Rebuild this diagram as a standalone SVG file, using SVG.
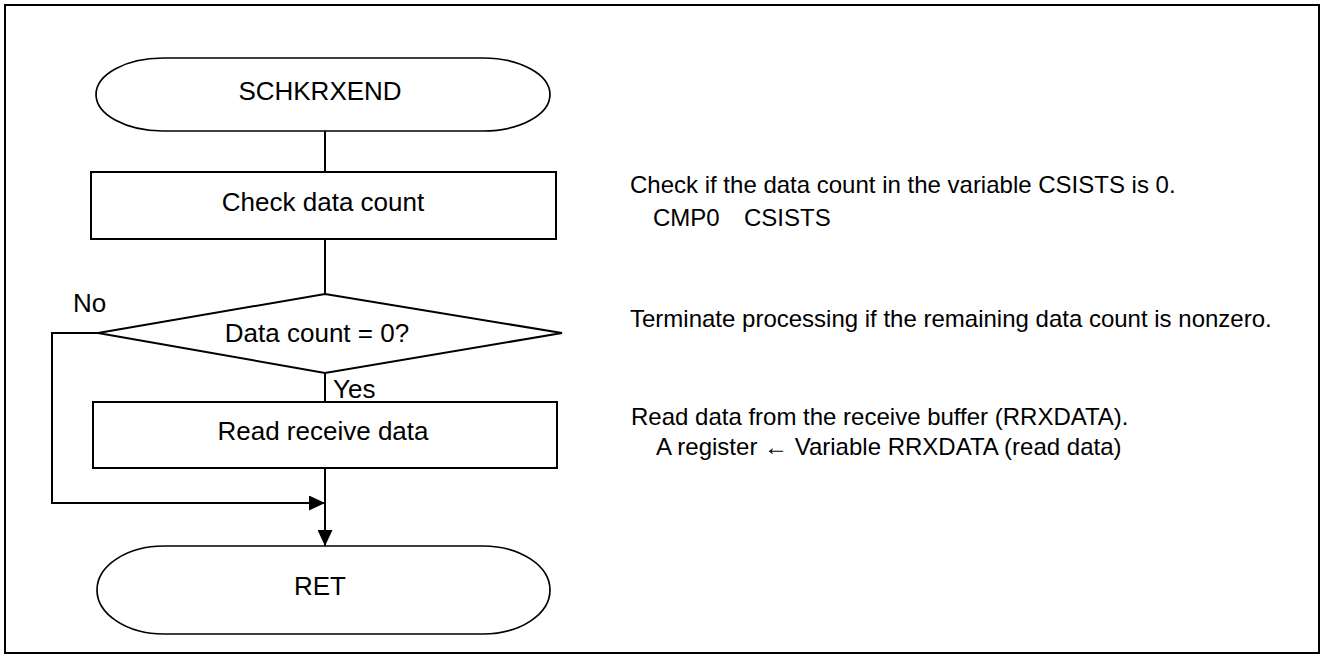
<svg xmlns="http://www.w3.org/2000/svg" width="1324" height="658" viewBox="0 0 1324 658">
<style>
.shape{fill:#fff;stroke:#000;stroke-width:2}
.term{fill:#fff;stroke:#000;stroke-width:1.7}
.conn{fill:none;stroke:#000;stroke-width:2}
.t{font-family:"Liberation Sans",Arial,sans-serif;font-size:26px;fill:#000}
.c{text-anchor:middle}
.n{font-family:"Liberation Sans",Arial,"DejaVu Sans",sans-serif;font-size:24px;fill:#000}
</style>
<defs>
<marker id="arr" markerUnits="userSpaceOnUse" markerWidth="16" markerHeight="15" refX="16" refY="7.5" orient="auto">
<path d="M0,0 L16,7.5 L0,15 Z" fill="#000"/>
</marker>
</defs>
<rect x="5" y="5" width="1314" height="648" fill="#fff" stroke="#000" stroke-width="2"/>
<g id="connectors">
<line class="conn" x1="325" y1="131" x2="325" y2="172"/>
<line class="conn" x1="325" y1="239" x2="325" y2="294"/>
<line class="conn" x1="325" y1="373" x2="325" y2="402"/>
<line class="conn" x1="325" y1="468" x2="325" y2="546" marker-end="url(#arr)"/>
<polyline class="conn" points="98,333 52,333 52,503 325,503" marker-end="url(#arr)"/>
<text class="t" x="73" y="312">No</text>
<text class="t" x="333" y="398">Yes</text>
</g>
<g id="start">
<path class="term" d="M163,58 H483 A67,36.5 0 0 1 483,131 H163 A67,36.5 0 0 1 163,58 Z"/>
<text class="t c" x="320" y="100">SCHKRXEND</text>
</g>
<g id="check">
<rect class="shape" x="91" y="172" width="465" height="67"/>
<text class="t c" x="323" y="211">Check data count</text>
</g>
<g id="decision">
<polygon class="shape" points="325,294 562,333 325,373 98,333"/>
<text class="t c" x="317" y="342">Data count = 0?</text>
</g>
<g id="read">
<rect class="shape" x="93" y="402" width="464" height="66"/>
<text class="t c" x="323" y="440">Read receive data</text>
</g>
<g id="end">
<path class="term" d="M164,546 H483 A67,44 0 0 1 483,634 H164 A67,44 0 0 1 164,546 Z"/>
<text class="t c" x="320" y="595">RET</text>
</g>
<g id="notes">
<text class="n" x="630" y="193">Check if the data count in the variable CSISTS is 0.</text>
<text class="n" x="653" y="226">CMP0<tspan x="744">CSISTS</tspan></text>
<text class="n" x="630" y="327">Terminate processing if the remaining data count is nonzero.</text>
<text class="n" x="631" y="425">Read data from the receive buffer (RRXDATA).</text>
<text class="n" x="656" y="455">A register ← Variable RRXDATA (read data)</text>
</g>
</svg>
